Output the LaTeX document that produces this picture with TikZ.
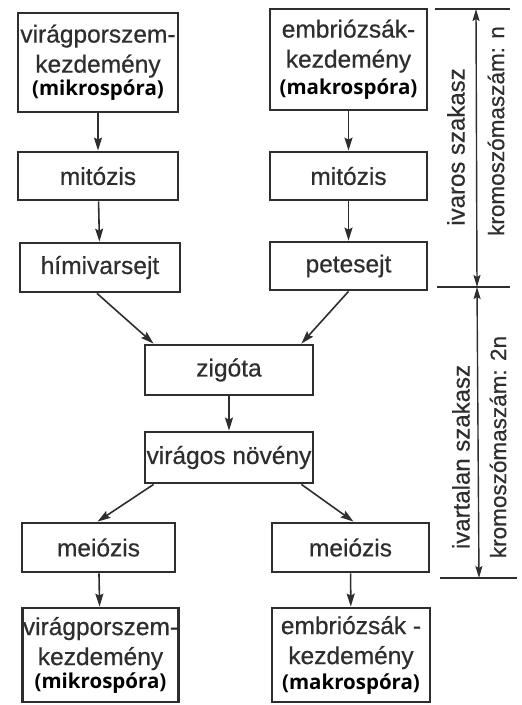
\documentclass[tikz,border=0pt]{standalone}
\usepackage{fontspec}
\setmainfont{Liberation Sans}[FakeBold=0.5]
\newfontfamily\sporefont{Open Sans}
\usepackage{xcolor}
\definecolor{ink}{HTML}{2E2E2E}
\usetikzlibrary{positioning,arrows.meta}
\tikzset{
  >={Stealth[length=13pt,width=8pt,inset=2pt]},
  stage/.style={draw=ink,line width=2.8pt,align=center,inner sep=0pt,text=ink,
    font=\fontsize{24.5}{30}\selectfont},
  flow/.style={->,draw=ink,line width=1.6pt},
  span/.style={<->,draw=ink,line width=1.4pt,>={Stealth[length=12pt,width=7pt,inset=2pt]}},
  limit/.style={draw=ink,line width=1.4pt},
  side/.style={rotate=90,text=ink,inner sep=0pt,font=\fontsize{24}{28}\selectfont},
  chrom/.style={side,font=\fontsize{22.5}{26}\selectfont},
}
\newcommand{\sporename}[1]{{\sporefont\bfseries\fontsize{20.5}{22}\selectfont\color{black}#1}}

\begin{document}
\begin{tikzpicture}[x=1pt,y=-1pt]
  \useasboundingbox[fill=white] (0,0) rectangle (522,705);
  % haploid line
  \node[stage,minimum width=160,minimum height=99] (lspore) at (98,62.5)
    {vir\'agporszem-\\kezdem\'eny\\[-7pt]\sporename{(mikrosp\'ora)}};
  \node[stage,minimum width=157,minimum height=101] (rspore) at (348.5,59.5)
    {embri\'ozs\'ak-\\kezdem\'eny\\[-3pt]\sporename{(makrosp\'ora)}};
  \node[stage,minimum width=160,minimum height=48] (lmit) at (98,176) {mit\'ozis};
  \node[stage,minimum width=157,minimum height=48] (rmit) at (348.5,176) {mit\'ozis};
  \node[stage,minimum width=160,minimum height=49] (sperm) at (100,267.5) {h\'imivarsejt};
  \node[stage,minimum width=157,minimum height=48] (egg) at (348.5,266) {petesejt};
  % diploid line
  \node[stage,minimum width=168,minimum height=50] (zyg) at (229,370) {zig\'ota};
  \node[stage,minimum width=168,minimum height=51] (plant) at (229,457.5) {vir\'agos n\"ov\'eny};
  \node[stage,minimum width=153,minimum height=49] (lmei) at (98.5,547.5) {mei\'ozis};
  \node[stage,minimum width=157,minimum height=49] (rmei) at (350.5,547.5) {mei\'ozis};
  \node[stage,minimum width=155,minimum height=94] (lspore2) at (100.5,655)
    {vir\'agporszem-\\kezdem\'eny\\[-7pt]\sporename{(mikrosp\'ora)}};
  \node[stage,minimum width=158,minimum height=94] (rspore2) at (351,655)
    {embri\'ozs\'ak -\\kezdem\'eny\\[-5pt]\sporename{(makrosp\'ora)}};
  % arrows
  \draw[flow] (lspore) -- (lmit);
  \draw[flow] (rspore) -- (rmit);
  \draw[flow] (lmit) -- (sperm);
  \draw[flow] (rmit) -- (egg);
  \draw[flow] ([xshift=-3]sperm.south) -- ([xshift=10]zyg.north west);
  \draw[flow] (egg.south) -- ([xshift=-13]zyg.north east);
  \draw[flow] (zyg) -- (plant);
  \draw[flow] ([xshift=10]plant.south west) -- ([xshift=-1]lmei.north);
  \draw[flow] ([xshift=-13]plant.south east) -- ([xshift=3]rmei.north);
  \draw[flow] (lmei) -- (lspore2);
  \draw[flow] (rmei) -- (rspore2);
  % phase limits
  \coordinate (ntop) at (476,9);
  \coordinate (nmid) at (477,287);
  \coordinate (nbot) at (479,578);
  \draw[limit] ([xshift=-41]ntop) -- ([xshift=34]ntop);
  \draw[limit] ([xshift=-40]nmid) -- ([xshift=33]nmid);
  \draw[limit] ([xshift=-39]nbot) -- ([xshift=38]nbot);
  \draw[span] (ntop) -- (nmid);
  \draw[span] (nmid) -- (nbot);
  \node[side] (sexual) at (456,147) {ivaros szakasz};
  \node[chrom] (chrn) at (496,131) {kromosz\'omasz\'am: n};
  \node[side] (asexual) at (461,457) {ivartalan szakasz};
  \node[chrom] (chr2n) at (498,447) {kromosz\'omasz\'am: 2n};
\end{tikzpicture}
\end{document}
